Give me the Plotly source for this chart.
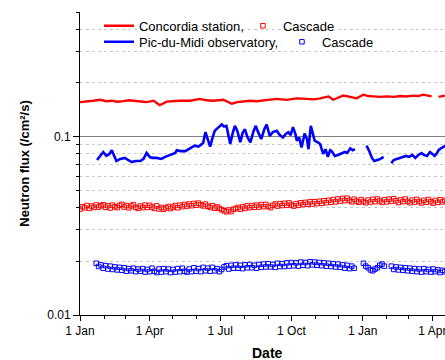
import pandas as pd
import plotly.graph_objects as go

START = pd.Timestamp("2013-01-01")

# Concordia station measured flux (line), day offsets from 1 Jan
conc_days = [0, 9, 17, 26, 34, 41, 48, 56, 63, 69, 78, 86, 95, 103, 112, 120, 129, 142, 155, 163, 172, 185, 196, 203, 211,
             220, 228, 241, 254, 267, 280, 293, 302, 310, 321, 327, 334, 340, 349, 357, 366, 372, 379, 387, 396, 405, 413,
             421, 430, 437, 443, 450, 454, 458, 463, 471]
conc_vals = [0.156, 0.157, 0.159, 0.161, 0.158, 0.159, 0.157, 0.158, 0.160, 0.159, 0.157, 0.156, 0.159, 0.150, 0.157,
             0.158, 0.159, 0.159, 0.163, 0.160, 0.159, 0.161, 0.153, 0.156, 0.158, 0.159, 0.158, 0.161, 0.163, 0.161,
             0.164, 0.163, 0.162, 0.164, 0.168, 0.161, 0.166, 0.170, 0.167, 0.164, 0.172, 0.169, 0.168, 0.167, 0.168,
             0.167, 0.169, 0.168, 0.170, 0.169, 0.172, 0.169, 0.168, None, 0.167, 0.170]

# Pic-du-Midi observatory measured flux (line)
pic_days = [22, 25, 30, 34, 38, 41, 44, 47, 52, 58, 62, 67, 72, 78, 82, 86, 90, 93, 99, 105, 110, 114, 119, 123, 125,
            130, 136, 142, 148, 153, 159, 162, 165, 168, 171, 174, 178, 183, 186, 189, 191, 194, 197, 200, 203, 207,
            210, 213, 216, 220, 224, 227, 230, 234, 238, 241, 245, 249, 254, 258, 262, 266, 269, 272, 275, 278, 280,
            283, 286, 290, 293, 295, 298, 301, 303, 307, 310, 314, 317, 320, 323, 325, 329, 333, 337, 342, 345, 349,
            352, 355, 362,
            370, 372, 374, 377, 380, 384, 388, 392, 397,
            402, 405, 409, 413, 417, 421, 425, 429, 433, 437, 441, 444, 448, 452, 455, 458, 461, 463, 466, 469, 472]
pic_vals = [0.074, 0.077, 0.082, 0.078, 0.080, 0.084, 0.078, 0.073, 0.075, 0.076, 0.074, 0.072, 0.073, 0.073, 0.075,
            0.081, 0.077, 0.076, 0.076, 0.075, 0.077, 0.078, 0.080, 0.081, 0.084, 0.083, 0.083, 0.086, 0.089, 0.088,
            0.092, 0.106, 0.095, 0.088, 0.098, 0.108, 0.112, 0.117, 0.114, 0.115, 0.105, 0.091, 0.104, 0.115, 0.108,
            0.093, 0.105, 0.110, 0.100, 0.093, 0.107, 0.115, 0.106, 0.097, 0.110, 0.117, 0.101, 0.106, 0.108, 0.102,
            0.099, 0.104, 0.106, 0.102, 0.113, 0.104, 0.095, 0.099, 0.087, 0.104, 0.097, 0.085, 0.115, 0.102, 0.095,
            0.093, 0.091, 0.080, 0.085, 0.077, 0.084, 0.083, 0.078, 0.079, 0.080, 0.082, 0.081, 0.086, 0.084, 0.085,
            None,
            0.089, 0.086, 0.082, 0.076, 0.073, 0.074, 0.075, 0.077, None,
            0.071, 0.074, 0.075, 0.076, 0.077, 0.078, 0.077, 0.079, 0.076, 0.079, 0.081, 0.079, 0.078, 0.082, 0.080,
            0.078, 0.081, 0.084, 0.086, 0.088, 0.089]

# Cascade simulation, Concordia (every 3 days from 1 Jan)
conc_cas_days = list(range(0, 472, 3))
conc_cas_vals = [
    0.0392, 0.0405, 0.0399, 0.0411, 0.0396, 0.0408, 0.0401, 0.0414, 0.0403, 0.0410,
    0.0415, 0.0402, 0.0410, 0.0398, 0.0413, 0.0405, 0.0400, 0.0412, 0.0417, 0.0403,
    0.0411, 0.0399, 0.0409, 0.0416, 0.0402, 0.0396, 0.0408, 0.0400, 0.0413, 0.0401,
    0.0412, 0.0403, 0.0396, 0.0409, 0.0393, 0.0401, 0.0392, 0.0399, 0.0406, 0.0395,
    0.0403, 0.0411, 0.0399, 0.0413, 0.0405, 0.0417, 0.0408, 0.0419, 0.0410, 0.0422,
    0.0413, 0.0424, 0.0415, 0.0409, 0.0419, 0.0407, 0.0401, 0.0410, 0.0397, 0.0404,
    0.0396, 0.0390, 0.0384, 0.0379, 0.0388, 0.0380, 0.0391, 0.0395, 0.0401, 0.0392,
    0.0404, 0.0396, 0.0409, 0.0400, 0.0411, 0.0402, 0.0413, 0.0403, 0.0416, 0.0405,
    0.0417, 0.0406, 0.0400, 0.0412, 0.0419, 0.0408, 0.0421, 0.0411, 0.0423, 0.0412,
    0.0425, 0.0414, 0.0408, 0.0421, 0.0412, 0.0426, 0.0416, 0.0428, 0.0418, 0.0431,
    0.0419, 0.0432, 0.0421, 0.0434, 0.0423, 0.0437, 0.0426, 0.0440, 0.0429, 0.0444,
    0.0431, 0.0447, 0.0435, 0.0450, 0.0438, 0.0452, 0.0439, 0.0431, 0.0446, 0.0435,
    0.0429, 0.0444, 0.0433, 0.0426, 0.0441, 0.0430, 0.0445, 0.0432, 0.0447, 0.0436,
    0.0428, 0.0443, 0.0431, 0.0446, 0.0434, 0.0449, 0.0437, 0.0427, 0.0442, 0.0432,
    0.0447, 0.0434, 0.0426, 0.0441, 0.0430, 0.0445, 0.0433, 0.0425, 0.0440, 0.0429,
    0.0444, 0.0432, 0.0424, 0.0439, 0.0428, 0.0443, 0.0431, 0.0440]

# Cascade simulation, Pic-du-Midi (every 3 days, three periods)
pic_cas_days = list(range(21, 355, 3)) + list(range(366, 394, 3)) + list(range(402, 472, 3))
pic_cas_vals = [
    0.0195, 0.0187, 0.0191, 0.0183, 0.0189, 0.0181, 0.0188, 0.0180, 0.0186, 0.0179,
    0.0185, 0.0178, 0.0184, 0.0176, 0.0182, 0.0177, 0.0183, 0.0175, 0.0181, 0.0176,
    0.0182, 0.0174, 0.0180, 0.0175, 0.0183, 0.0176, 0.0173, 0.0181, 0.0174, 0.0182,
    0.0175, 0.0181, 0.0173, 0.0180, 0.0174, 0.0182, 0.0175, 0.0183, 0.0176, 0.0174,
    0.0181, 0.0175, 0.0184, 0.0176, 0.0182, 0.0175, 0.0185, 0.0177, 0.0183, 0.0176,
    0.0185, 0.0177, 0.0182, 0.0175, 0.0180, 0.0186, 0.0189, 0.0181, 0.0190, 0.0183,
    0.0191, 0.0183, 0.0190, 0.0182, 0.0191, 0.0184, 0.0192, 0.0184, 0.0190, 0.0183,
    0.0192, 0.0185, 0.0193, 0.0186, 0.0194, 0.0186, 0.0192, 0.0185, 0.0195, 0.0187,
    0.0194, 0.0187, 0.0196, 0.0188, 0.0197, 0.0189, 0.0196, 0.0188, 0.0198, 0.0190,
    0.0197, 0.0189, 0.0199, 0.0191, 0.0198, 0.0190, 0.0197, 0.0189, 0.0196, 0.0188,
    0.0195, 0.0187, 0.0194, 0.0186, 0.0193, 0.0185, 0.0191, 0.0183, 0.0190, 0.0182,
    0.0188, 0.0183,
    0.0195, 0.0188, 0.0184, 0.0179, 0.0177, 0.0181, 0.0184, 0.0190, 0.0193, 0.0188,
    0.0188, 0.0180, 0.0186, 0.0179, 0.0185, 0.0178, 0.0184, 0.0177, 0.0183, 0.0176,
    0.0182, 0.0175, 0.0181, 0.0174, 0.0182, 0.0175, 0.0180, 0.0174, 0.0181, 0.0175,
    0.0179, 0.0173, 0.0178, 0.0175]

x_tick_dates = ["2013-01-01", "2013-04-01", "2013-07-01", "2013-10-01", "2014-01-01", "2014-04-01"]
x_tick_text = ["1 Jan", "1 Apr", "1 Jul", "1 Oct", "1 Jan", "1 Apr"]
y_tick_vals = [0.01, 0.1]
y_tick_text = ["0.01", "0.1"]
y_minor_vals = [0.02, 0.03, 0.04, 0.05, 0.06, 0.07, 0.08, 0.09, 0.2, 0.3, 0.4, 0.5]


def to_dates(days):
    return [START + pd.Timedelta(days=d) for d in days]


FONT = "Liberation Sans, Arial, sans-serif"
RED = "#ff0000"
BLUE = "#0000ff"

fig = go.Figure()
fig.add_trace(go.Scatter(x=to_dates(conc_days), y=conc_vals, mode="lines", name="Concordia station,",
                         line=dict(color=RED, width=2.3), connectgaps=False, legend="legend", legendwidth=99))
fig.add_trace(go.Scatter(x=to_dates(conc_cas_days), y=conc_cas_vals, mode="markers", name="Cascade",
                         marker=dict(symbol="square-open", size=4.5, color=RED, line=dict(width=1, color=RED)),
                         legend="legend", legendwidth=90))
fig.add_trace(go.Scatter(x=to_dates(pic_days), y=pic_vals, mode="lines", name="Pic-du-Midi observatory,",
                         line=dict(color=BLUE, width=2.6), connectgaps=False, legend="legend2", legendwidth=138))
fig.add_trace(go.Scatter(x=to_dates(pic_cas_days), y=pic_cas_vals, mode="markers", name="Cascade",
                         marker=dict(symbol="square-open", size=4.5, color=BLUE, line=dict(width=1, color=BLUE)),
                         legend="legend2", legendwidth=52))

leg_common = dict(orientation="h", xanchor="left", yanchor="top", bgcolor="rgba(0,0,0,0)", borderwidth=0,
                  font=dict(family=FONT, size=13, color="black"), traceorder="normal")

fig.update_layout(
    width=445, height=360,
    margin=dict(l=80, r=0, t=12, b=45),
    paper_bgcolor="white", plot_bgcolor="white",
    font=dict(family=FONT, size=12, color="black"),
    showlegend=True,
    legend=dict(x=0.052, y=1.004, **leg_common),
    legend2=dict(x=0.052, y=0.951, **leg_common),
    # white legend frame hiding the grid behind the legend (between grid and data)
    shapes=[dict(type="rect", xref="paper", yref="paper", x0=0.055, x1=0.816, y0=0.86, y1=1.0,
                 fillcolor="white", line=dict(width=0), layer="between")],
    xaxis=dict(
        type="date",
        range=["2013-01-01", "2014-04-17 07:00"],
        tickmode="array", tickvals=x_tick_dates, ticktext=x_tick_text,
        ticks="outside", ticklen=5, tickwidth=1, tickcolor="black",
        ticklabeloverflow="allow",
        showline=True, linecolor="black", linewidth=1,
        showgrid=False, zeroline=False,
        tickfont=dict(family=FONT, size=12, color="black"),
        minor=dict(dtick="M1", tick0="2013-01-01", ticks="outside", ticklen=3, tickcolor="black", showgrid=False),
    ),
    yaxis=dict(
        type="log",
        range=[-2, -0.30103],
        tickmode="array", tickvals=y_tick_vals, ticktext=y_tick_text,
        ticks="outside", ticklen=6, tickwidth=1, tickcolor="black",
        showline=True, linecolor="black", linewidth=1,
        showgrid=True, gridcolor="#808080", gridwidth=1,
        zeroline=False,
        tickfont=dict(family=FONT, size=12, color="black"),
        title=dict(text="Neutron flux (/cm²/s)", font=dict(family=FONT, size=13, color="black", weight="bold"),
                   standoff=14),
        minor=dict(tickmode="array", tickvals=y_minor_vals, ticks="outside", ticklen=3, tickcolor="black",
                   showgrid=True, gridcolor="#c8c8c8", griddash="dot", gridwidth=1),
    ),
    annotations=[dict(text="Date", xref="paper", yref="paper", x=0.515, y=0, yshift=-38, yanchor="middle",
                      xanchor="center", showarrow=False,
                      font=dict(family=FONT, size=14, color="black", weight="bold"))],
)

fig.write_html("out.html", config={"displayModeBar": False},
               post_script="document.body.style.margin='0px';document.body.style.padding='0px';")
